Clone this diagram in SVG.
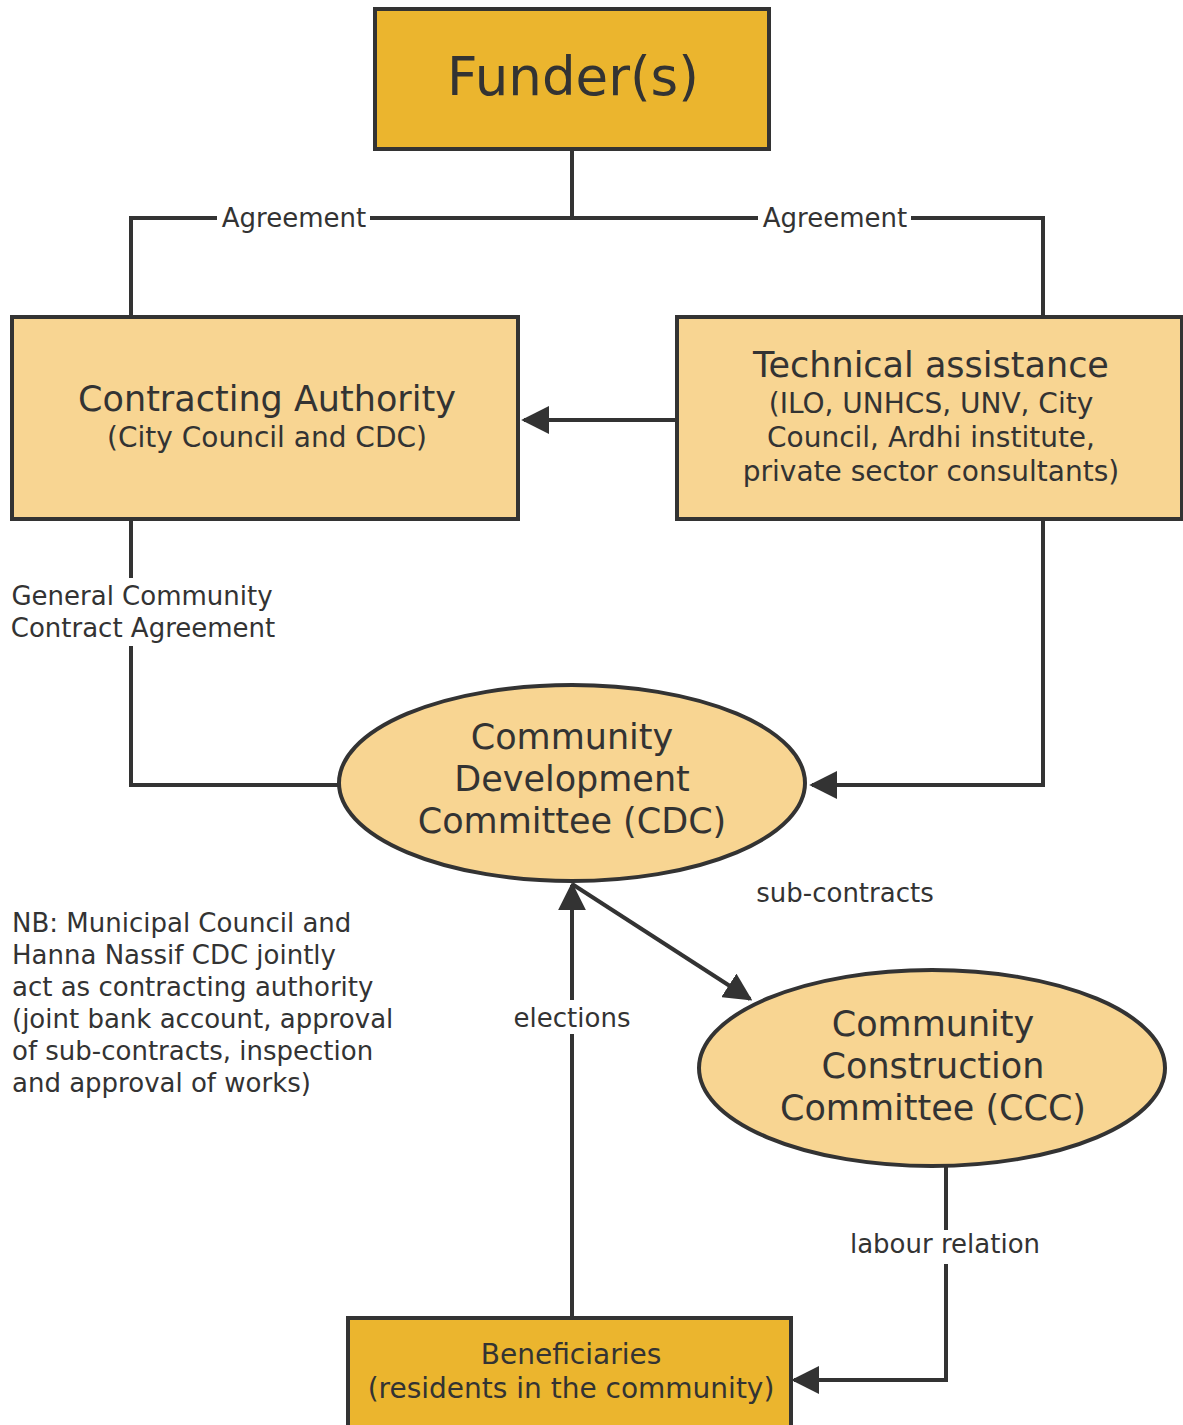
<svg xmlns="http://www.w3.org/2000/svg" width="1183" height="1425" viewBox="0 0 1183 1425">
<style>
text{font-family:"DejaVu Sans","Verdana",sans-serif;fill:#333;text-anchor:middle}
.dark{fill:#EBB52E;stroke:#333;stroke-width:4}
.light{fill:#F8D592;stroke:#333;stroke-width:4}
.c{fill:none;stroke:#333;stroke-width:4}
.lbl{font-size:26px}
.nb{font-size:26px;text-anchor:start}
.big{font-size:35px}
.sub{font-size:28px}
</style>
<defs>
<marker id="ah" viewBox="0 0 10 10" refX="9" refY="5" markerWidth="7" markerHeight="7" markerUnits="strokeWidth" orient="auto">
<path d="M0,0 L10,5 L0,10 z" fill="#333"/>
</marker>
</defs>
<rect width="1183" height="1425" fill="#fff"/>
<g id="connectors">
<path class="c" d="M572,149 V218"/>
<path class="c" d="M131,316 V218 H217 M370,218 H758 M911,218 H1043 V316"/>
<path class="c" d="M677,420 H524" marker-end="url(#ah)"/>
<path class="c" d="M131,519 V578 M131,646 V785 H338"/>
<path class="c" d="M1043,519 V785 H812" marker-end="url(#ah)"/>
<path class="c" d="M572,1316 V1034 M572,1000 V885" marker-end="url(#ah)"/>
<path class="c" d="M572,884 L750,999" marker-end="url(#ah)"/>
<path class="c" d="M946,1167 V1230 M946,1264 V1380 H794" marker-end="url(#ah)"/>
<text class="lbl" x="294" y="227">Agreement</text>
<text class="lbl" x="835" y="227">Agreement</text>
<text class="lbl" x="142" y="605">General Community</text>
<text class="lbl" x="143" y="637">Contract Agreement</text>
<text class="lbl" x="572" y="1027">elections</text>
<text class="lbl" x="845" y="902">sub-contracts</text>
<text class="lbl" x="945" y="1253">labour relation</text>
</g>
<g id="funders">
<rect class="dark" x="375" y="9" width="394" height="140"/>
<text x="573" y="95" font-size="53">Funder(s)</text>
</g>
<g id="contracting-authority">
<rect class="light" x="12" y="317" width="506" height="202"/>
<text class="big" x="267" y="411">Contracting Authority</text>
<text class="sub" x="267" y="447">(City Council and CDC)</text>
</g>
<g id="technical-assistance">
<rect class="light" x="677" y="317" width="505" height="202"/>
<text class="big" x="931" y="377">Technical assistance</text>
<text class="sub" x="931" y="413">(ILO, UNHCS, UNV, City</text>
<text class="sub" x="931" y="447">Council, Ardhi institute,</text>
<text class="sub" x="931" y="481">private sector consultants)</text>
</g>
<g id="cdc">
<ellipse class="light" cx="572" cy="783" rx="233" ry="98"/>
<text class="big" x="572" y="749">Community</text>
<text class="big" x="572" y="791">Development</text>
<text class="big" x="572" y="833">Committee (CDC)</text>
</g>
<g id="ccc">
<ellipse class="light" cx="932" cy="1068" rx="233" ry="98"/>
<text class="big" x="933" y="1036">Community</text>
<text class="big" x="933" y="1078">Construction</text>
<text class="big" x="933" y="1120">Committee (CCC)</text>
</g>
<g id="beneficiaries">
<rect class="dark" x="348" y="1318" width="443" height="115"/>
<text class="sub" x="571" y="1364">Beneficiaries</text>
<text class="sub" x="571" y="1398">(residents in the community)</text>
</g>
<g id="note">
<text class="nb" x="12" y="932">NB: Municipal Council and</text>
<text class="nb" x="12" y="964">Hanna Nassif CDC jointly</text>
<text class="nb" x="12" y="996">act as contracting authority</text>
<text class="nb" x="12" y="1028">(joint bank account, approval</text>
<text class="nb" x="12" y="1060">of sub-contracts, inspection</text>
<text class="nb" x="12" y="1092">and approval of works)</text>
</g>
</svg>
